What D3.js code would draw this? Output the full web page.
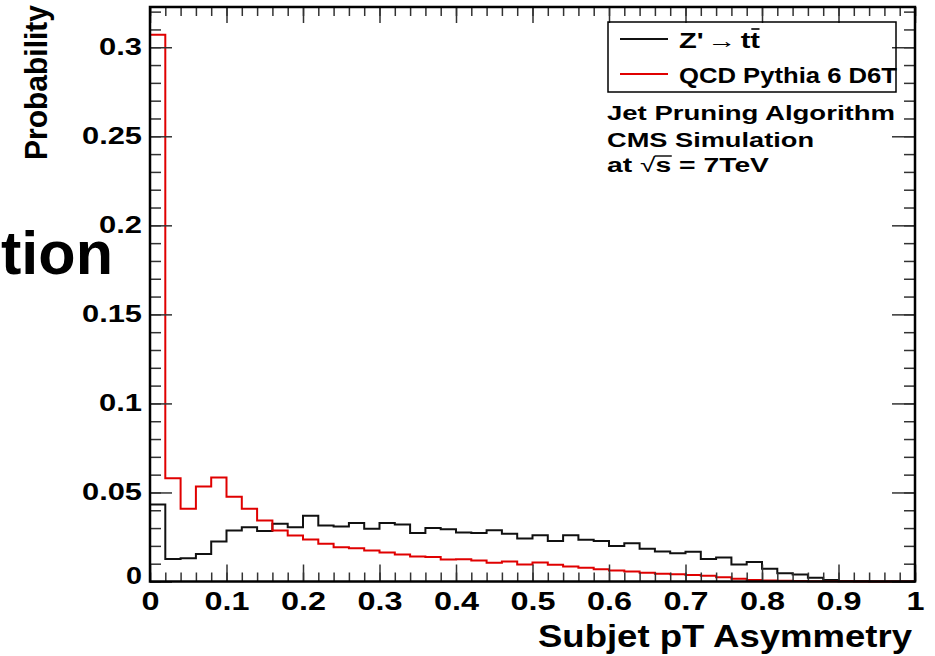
<!DOCTYPE html>
<html>
<head>
<meta charset="utf-8">
<script src="https://cdn.jsdelivr.net/npm/d3@7"></script>
<style>
  html, body { margin: 0; padding: 0; background: #fff; }
  svg { display: block; }
  text { font-family: "Liberation Sans", Arial, Helvetica, sans-serif; font-weight: bold; fill: #000; }
</style>
</head>
<body>
<svg id="chart" width="935" height="656"></svg>
<script>
// Lower edges of the 50 histogram bins (width 0.02)
const binLow = [0.00,0.02,0.04,0.06,0.08,0.10,0.12,0.14,0.16,0.18,
                0.20,0.22,0.24,0.26,0.28,0.30,0.32,0.34,0.36,0.38,
                0.40,0.42,0.44,0.46,0.48,0.50,0.52,0.54,0.56,0.58,
                0.60,0.62,0.64,0.66,0.68,0.70,0.72,0.74,0.76,0.78,
                0.80,0.82,0.84,0.86,0.88,0.90,0.92,0.94,0.96,0.98];
const binWidth = 0.02;

// Z' -> ttbar signal
const zprimeTT = [0.0433,0.0127,0.0131,0.0154,0.0225,0.0287,0.0305,0.0283,0.0324,0.0305,
                  0.0369,0.0315,0.0309,0.0328,0.0296,0.0328,0.0320,0.0273,0.0301,0.0294,
                  0.0275,0.0273,0.0288,0.0268,0.0242,0.0260,0.0228,0.0260,0.0234,0.0228,
                  0.0199,0.0215,0.0184,0.0169,0.0159,0.0167,0.0127,0.0135,0.0096,0.0109,
                  0.0071,0.0047,0.0039,0.0021,0.0009,0.0002,0.0001,0.0000,0.0000,0.0000];

// QCD Pythia 6 D6T background
const qcdD6T = [0.3070,0.0580,0.0408,0.0534,0.0584,0.0476,0.0408,0.0343,0.0287,0.0258,
                0.0236,0.0212,0.0193,0.0187,0.0174,0.0163,0.0152,0.0140,0.0138,0.0124,
                0.0125,0.0118,0.0105,0.0112,0.0096,0.0107,0.0094,0.0084,0.0077,0.0069,
                0.0062,0.0056,0.0049,0.0043,0.0041,0.0037,0.0032,0.0024,0.0015,0.0009,
                0.0006,0.0004,0.0003,0.0002,0.0001,0.0001,0.0000,0.0000,0.0000,0.0000];

const xMajorTicks = [0,0.1,0.2,0.3,0.4,0.5,0.6,0.7,0.8,0.9,1];
const xTickLabels = ["0","0.1","0.2","0.3","0.4","0.5","0.6","0.7","0.8","0.9","1"];
const yMajorTicks = [0,0.05,0.1,0.15,0.2,0.25,0.3];
const yTickLabels = ["0","0.05","0.1","0.15","0.2","0.25","0.3"];

const seriesNames = ["Z' \u2192 t", "QCD Pythia 6 D6T"];
const infoLines = ["Jet Pruning Algorithm", "CMS Simulation"];

const svg = d3.select("#chart");
const L = 150, R = 915, T = 7, B = 581.5;
const yMax = 0.3226;

const x = d3.scaleLinear().domain([0, 1]).range([L, R]);
const y = d3.scaleLinear().domain([0, yMax]).range([B, T]);

const xMinor = d3.range(0, 51).map(i => i * 0.02);
const yMinor = d3.range(0, 33).map(i => i * 0.01).filter(v => v <= yMax);

// Stretch a text node horizontally to a given advance width
function fit(sel, w) {
  sel.attr("textLength", w).attr("lengthAdjust", "spacingAndGlyphs");
}

// ---- histograms ----
function stepPoints(vals) {
  const pts = [[0, 0]];
  vals.forEach((v, i) => { pts.push([binLow[i], v]); });
  pts.push([binLow[binLow.length - 1] + binWidth, vals[vals.length - 1]]);
  pts.push([1, 0]);
  return pts;
}
const stepLine = d3.line().x(d => x(d[0])).y(d => y(d[1])).curve(d3.curveStepAfter);

// black first so red sits on top of it
svg.append("path").attr("d", stepLine(stepPoints(zprimeTT)))
   .attr("fill", "none").attr("stroke", "#111").attr("stroke-width", 2);
svg.append("path").attr("d", stepLine(stepPoints(qcdD6T)))
   .attr("fill", "none").attr("stroke", "#e00000").attr("stroke-width", 2);

// ---- axes (ticks point inwards on all four sides) ----
const tickColor = "#333";
function styleAxis(g) {
  g.select(".domain").remove();
  g.selectAll(".tick line").attr("stroke", tickColor).attr("stroke-width", 1.5);
}

// minor ticks
svg.append("g").attr("transform", `translate(0,${B})`)
   .call(d3.axisBottom(x).tickValues(xMinor).tickSize(-9).tickFormat(""))
   .call(styleAxis);
svg.append("g").attr("transform", `translate(0,${T})`)
   .call(d3.axisTop(x).tickValues(xMinor).tickSize(-9).tickFormat(""))
   .call(styleAxis);
svg.append("g").attr("transform", `translate(${L},0)`)
   .call(d3.axisLeft(y).tickValues(yMinor).tickSize(-11).tickFormat(""))
   .call(styleAxis);
svg.append("g").attr("transform", `translate(${R},0)`)
   .call(d3.axisRight(y).tickValues(yMinor).tickSize(-11).tickFormat(""))
   .call(styleAxis);

// major ticks
const xAxisB = svg.append("g").attr("transform", `translate(0,${B})`)
   .call(d3.axisBottom(x).tickValues(xMajorTicks).tickSize(-17).tickPadding(10)
         .tickFormat((d, i) => xTickLabels[i]))
   .call(styleAxis);
xAxisB.selectAll("text").attr("font-size", 25.5).attr("fill", "#000")
   .each(function(d, i) { fit(d3.select(this), xTickLabels[i].length === 1 ? 18 : 45); });

svg.append("g").attr("transform", `translate(0,${T})`)
   .call(d3.axisTop(x).tickValues(xMajorTicks).tickSize(-16).tickFormat(""))
   .call(styleAxis);

const yAxisL = svg.append("g").attr("transform", `translate(${L},0)`)
   .call(d3.axisLeft(y).tickValues(yMajorTicks).tickSize(-22).tickPadding(8)
         .tickFormat((d, i) => yTickLabels[i]))
   .call(styleAxis);
yAxisL.selectAll("text").attr("font-size", 23).attr("fill", "#000")
   .each(function(d, i) {
     const n = yTickLabels[i].length;
     fit(d3.select(this), n === 1 ? 16 : (n === 3 ? 43 : 60));
   });
// the origin label sits a little lower, as ROOT places it
yAxisL.selectAll(".tick").filter(d => d === 0).select("text").attr("dy", "0.1em");

svg.append("g").attr("transform", `translate(${R},0)`)
   .call(d3.axisRight(y).tickValues(yMajorTicks).tickSize(-23).tickFormat(""))
   .call(styleAxis);

// frame
svg.append("rect").attr("x", L).attr("y", T).attr("width", R - L).attr("height", B - T)
   .attr("fill", "none").attr("stroke", "#000").attr("stroke-width", 2.5);

// ---- axis titles ----
const xTitle = svg.append("text").attr("x", 912).attr("y", 647)
   .attr("text-anchor", "end").attr("font-size", 32).text("Subjet pT Asymmetry");
fit(xTitle, 374);

const yTitle = svg.append("text")
   .attr("transform", "translate(47,160) rotate(-90)")
   .attr("font-size", 31).text("Probability");
fit(yTitle, 155);

// large heading fragment at the left edge
const heading = svg.append("text").attr("x", 1).attr("y", 274)
   .attr("font-size", 62).text("tion");
fit(heading, 112);

// ---- legend ----
const legend = svg.append("g");
legend.append("rect").attr("x", 608).attr("y", 22).attr("width", 288).attr("height", 70)
   .attr("fill", "none").attr("stroke", "#000").attr("stroke-width", 1.5);
const legendColors = ["#111", "#e00000"];
const legendY = [39, 74];
seriesNames.forEach((name, i) => {
  legend.append("line").attr("x1", 620).attr("x2", 668)
     .attr("y1", legendY[i]).attr("y2", legendY[i])
     .attr("stroke", legendColors[i]).attr("stroke-width", 2);
});

// Z' -> t tbar with an overline on the second t
const zt = legend.append("text").attr("x", 679).attr("y", legendY[0] + 9).attr("font-size", 22);
zt.append("tspan").text("Z'");
zt.append("tspan").attr("font-weight", "normal").attr("dx", 3).text("\u2192");
zt.append("tspan").attr("dx", 3).text("tt");
fit(zt, 81);
{
  const node = zt.node();
  const n = node.getNumberOfChars();
  const s = node.getStartPositionOfChar(n - 1);
  const e = node.getEndPositionOfChar(n - 1);
  legend.append("line").attr("x1", s.x + 1).attr("x2", e.x - 0.5)
     .attr("y1", legendY[0] - 10).attr("y2", legendY[0] - 10)
     .attr("stroke", "#000").attr("stroke-width", 1.6);
}
const qcdLabel = legend.append("text").attr("x", 679).attr("y", legendY[1] + 8.5)
   .attr("font-size", 22).text(seriesNames[1]);
fit(qcdLabel, 218);

// ---- annotation ----
const infoY = [120, 147];
const infoW = [288, 207];
infoLines.forEach((t, i) => {
  const el = svg.append("text").attr("x", 607).attr("y", infoY[i]).attr("font-size", 20).text(t);
  fit(el, infoW[i]);
});
const energy = svg.append("text").attr("x", 607).attr("y", 172).attr("font-size", 20);
energy.append("tspan").text("at ");
energy.append("tspan").attr("font-weight", "normal").text("\u221A");
energy.append("tspan").text("s = 7TeV");
fit(energy, 162);
{
  const node = energy.node();
  const rs = node.getEndPositionOfChar(3);
  const se = node.getEndPositionOfChar(4);
  svg.append("line").attr("x1", rs.x - 1).attr("x2", se.x + 0.5)
     .attr("y1", 172 - 16).attr("y2", 172 - 16)
     .attr("stroke", "#000").attr("stroke-width", 1.4);
}
</script>
</body>
</html>
